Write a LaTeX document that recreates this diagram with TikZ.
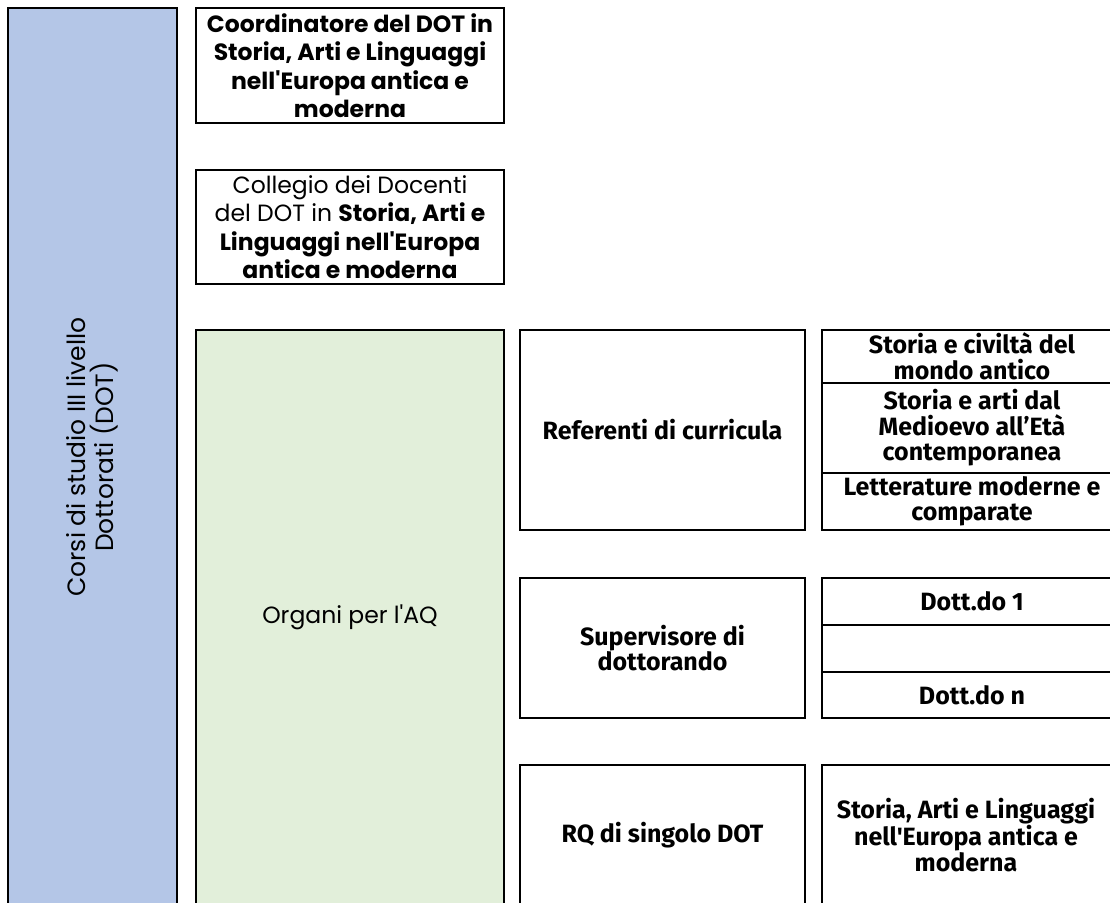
\documentclass[tikz,border=0pt]{standalone}
\usepackage{fontspec}
\newfontfamily\leftfont{Poppins}
\newfontfamily\rightfont{Fira Sans}
\definecolor{bluefill}{RGB}{180,198,231}
\definecolor{greenfill}{RGB}{226,239,218}
\begin{document}
\begin{tikzpicture}[x=1pt,y=1pt,
  box/.style={draw=black, line width=1.8pt, inner sep=0pt, outer sep=0pt, align=center},
  lefttext/.style={align=center, font=\leftfont\fontsize{23.5}{28.5}\selectfont},
  righttext/.style={align=center, font=\rightfont\bfseries\fontsize{25}{25.5}\selectfont}]
\useasboundingbox (0,0) rectangle (1110,902);
\clip (0,0) rectangle (1110,902);
% left blue column
\node[box, fill=bluefill, minimum width=169pt, minimum height=899pt, anchor=north west] (dot) at (8,894) {};
\node[align=center, font=\leftfont\fontsize{25}{28}\selectfont, rotate=90] (dottext) at (92,445) {Corsi di studio III livello\\Dottorati (DOT)};
% coordinator
\node[box, lefttext, minimum width=308pt, minimum height=115pt] (coord) at (350,836.5)
  {\bfseries Coordinatore del DOT in\\\bfseries Storia, Arti e Linguaggi\\\bfseries nell'Europa antica e\\\bfseries moderna};
% collegio
\node[box, lefttext, minimum width=308pt, minimum height=114pt] (coll) at (350,675)
  {Collegio dei Docenti\\del DOT in \textbf{Storia, Arti e}\\\textbf{Linguaggi nell'Europa}\\\textbf{antica e moderna}};
% organi
\node[box, fill=greenfill, minimum width=308pt, minimum height=577pt, anchor=north west] (organi) at (196,572) {};
\node[lefttext] (organitext) at (350,285) {Organi per l'AQ};
% referenti
\node[box, righttext, minimum width=285pt, minimum height=200pt] (ref) at (662.5,472) {Referenti di curricula};
\node[box, righttext, minimum width=300pt, minimum height=53pt, anchor=north west] (cur1) at (822,572) {Storia e civiltà del\\mondo antico};
\node[box, righttext, minimum width=300pt, minimum height=90pt, anchor=north west] (cur2) at (822,519) {Storia e arti dal\\Medioevo all’Età\\contemporanea};
\node[box, righttext, minimum width=300pt, minimum height=57pt, anchor=north west] (cur3) at (822,429) {Letterature moderne e\\comparate};
% supervisore
\node[box, righttext, minimum width=285pt, minimum height=140pt] (sup) at (662.5,254) {Supervisore di\\dottorando};
\node[box, righttext, minimum width=300pt, minimum height=47pt, anchor=north west] (d1) at (822,324) {Dott.do 1};
\node[box, righttext, minimum width=300pt, minimum height=47pt, anchor=north west] (d2) at (822,277) {};
\node[box, righttext, minimum width=300pt, minimum height=46pt, anchor=north west] (dn) at (822,230) {Dott.do n};
% RQ
\node[box, minimum width=285pt, minimum height=145pt, anchor=north west] (rq) at (520,137) {};
\node[righttext] (rqtext) at (662.5,67) {RQ di singolo DOT};
\node[box, minimum width=300pt, minimum height=145pt, anchor=north west] (sal) at (822,137) {};
\node[righttext] (saltext) at (966,67) {Storia, Arti e Linguaggi\\nell'Europa antica e\\moderna};
\end{tikzpicture}
\end{document}
